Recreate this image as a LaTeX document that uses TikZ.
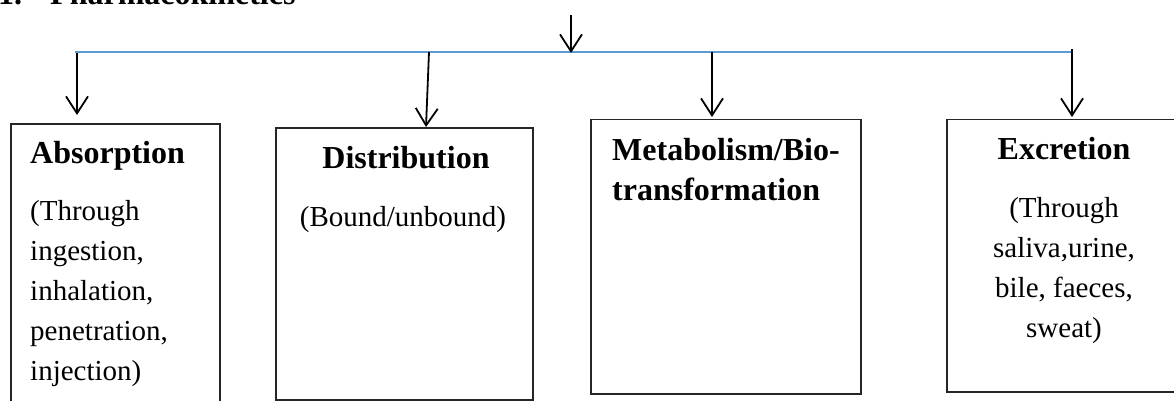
\documentclass[tikz,border=0pt]{standalone}
\usepackage{fontspec}
\setmainfont{Liberation Serif}
\usetikzlibrary{arrows.meta}
\definecolor{linkblue}{RGB}{91,155,213}
\tikzset{
  box/.style={draw=black!85, line width=1.5pt, rectangle, inner sep=0pt},
  head/.style={font=\fontsize{32}{40}\selectfont\bfseries, inner sep=0pt},
  body/.style={font=\fontsize{29}{40}\selectfont, inner sep=0pt},
  arr/.style={line width=1.8pt, -{Straight Barb[length=17pt,width=22pt,line width=1.8pt]}},
  bus/.style={draw=linkblue, line width=1.3pt}
}
\begin{document}
\begin{tikzpicture}[x=1pt,y=-1pt]
\clip (0,0) rectangle (1174,401);
\useasboundingbox (0,0) rectangle (1174,401);
% title
\node[head, anchor=base west] (num) at (-2,5) {1.};
\node[head, anchor=base west] (title) at (50,5) {Pharmacokinetics};
% boxes
\node[box, anchor=north west, minimum width=209pt, minimum height=300pt] (b1) at (10,123) {};
\node[box, anchor=north west, minimum width=257pt, minimum height=272pt] (b2) at (275,127) {};
\node[box, anchor=north west, minimum width=270pt, minimum height=274pt] (b3) at (590,119) {};
\node[box, anchor=north west, minimum width=260pt, minimum height=272pt] (b4) at (946,119) {};
% bus
\coordinate (busL) at (75,52);
\coordinate (busR) at (1071,52);
\draw[bus] (busL) -- (busR);
\coordinate (in) at (571,15);
\coordinate (inEnd) at (571,53);
\draw[arr] (in) -- (inEnd);
\coordinate (s1) at (77,53);
\coordinate (t1) at (77,115);
\draw[arr] (s1) -- (t1);
\coordinate (s2) at (429,52);
\draw[arr] (s2) -- (426,127);
\coordinate (s3) at (712,52);
\coordinate (t3) at (712,117);
\draw[arr] (s3) -- (t3);
\coordinate (s4) at (1072,49);
\coordinate (t4) at (1072,117);
\draw[arr] (s4) -- (t4);
% texts (multi-line nodes: base = last line's baseline)
\node[head, anchor=base west] (h1) at (30,163) {Absorption};
\node[body, anchor=base west, align=left] (t1a) at (30,380) {(Through\\ingestion,\\inhalation,\\penetration,\\injection)};
\node[head, anchor=base] (h2) at (406,168) {Distribution};
\node[body, anchor=base] (t2a) at (403,226) {(Bound/unbound)};
\node[head, anchor=base west, align=left] (h3) at (612,200) {Metabolism/Bio-\\transformation};
\node[head, anchor=base] (h4) at (1064,159) {Excretion};
\node[body, anchor=base, align=center] (t4a) at (1064,337) {(Through\\saliva,urine,\\bile, faeces,\\sweat)};
\end{tikzpicture}
\end{document}
